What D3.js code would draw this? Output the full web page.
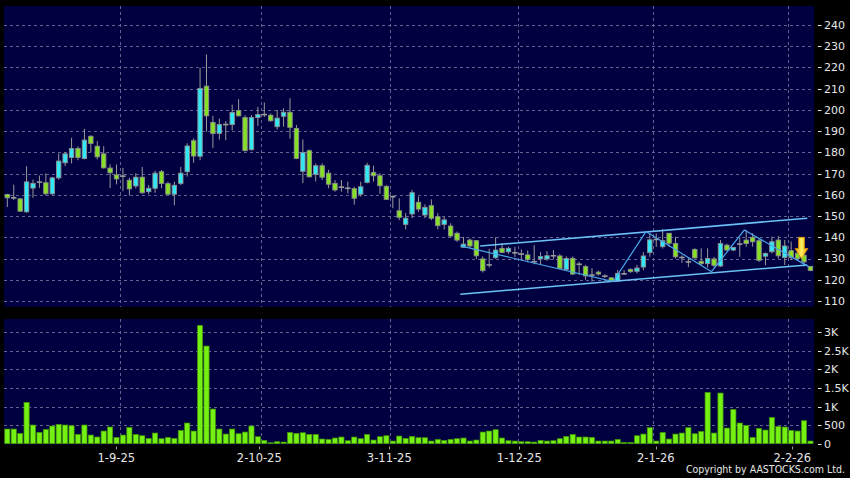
<!DOCTYPE html>
<html><head><meta charset="utf-8">
<script src="https://cdn.jsdelivr.net/npm/d3@7/dist/d3.min.js"></script>
<style>html,body{margin:0;padding:0;background:#000;} svg{display:block;}</style>
</head><body>
<svg id="chart" width="850" height="478"></svg>
<script>
// ---------- DATA ----------
const dates = [
"7-8-25","8-8-25","11-8-25","12-8-25","13-8-25","14-8-25","15-8-25","18-8-25","19-8-25","20-8-25",
"21-8-25","22-8-25","25-8-25","26-8-25","27-8-25","28-8-25","29-8-25",
"1-9-25","2-9-25","3-9-25","4-9-25","5-9-25","8-9-25","9-9-25","10-9-25","11-9-25","12-9-25",
"15-9-25","16-9-25","17-9-25","18-9-25","19-9-25","22-9-25","23-9-25","24-9-25","25-9-25","26-9-25","29-9-25","30-9-25",
"2-10-25","3-10-25","6-10-25","8-10-25","9-10-25","10-10-25","13-10-25","14-10-25","15-10-25","16-10-25","17-10-25",
"20-10-25","21-10-25","22-10-25","23-10-25","24-10-25","27-10-25","28-10-25","30-10-25","31-10-25",
"3-11-25","4-11-25","5-11-25","6-11-25","7-11-25","10-11-25","11-11-25","12-11-25","13-11-25","14-11-25",
"17-11-25","18-11-25","19-11-25","20-11-25","21-11-25","24-11-25","25-11-25","26-11-25","27-11-25","28-11-25",
"1-12-25","2-12-25","3-12-25","4-12-25","5-12-25","8-12-25","9-12-25","10-12-25","11-12-25","12-12-25",
"15-12-25","16-12-25","17-12-25","18-12-25","19-12-25","22-12-25","23-12-25","24-12-25","29-12-25","30-12-25","31-12-25",
"2-1-26","5-1-26","6-1-26","7-1-26","8-1-26","9-1-26","12-1-26","13-1-26","14-1-26","15-1-26","16-1-26",
"19-1-26","20-1-26","21-1-26","22-1-26","23-1-26","26-1-26","27-1-26","28-1-26","29-1-26","30-1-26",
"2-2-26","3-2-26","4-2-26","5-2-26","6-2-26"];

const open = [160.2,158.6,158.1,152.0,163.2,166.0,165.7,160.5,168.0,175.1, 177.6,181.8,177.1,187.6,182.9,179.3,172.6,169.4,168.8,166.9,
 164.2,168.3,161.5,163.1,170.9,165.3,160.3,165.4,170.9,185.5, 178.2,211.2,194.1,188.9,193.1,193.1,199.7,196.4,181.3,196.4,
 197.8,197.5,192.1,197.0,198.9,191.3,171.1,180.8,169.7,173.7, 170.2,165.4,163.6,163.1,162.9,160.3,165.9,170.6,169.0,164.0,
 159.1,152.5,146.1,151.0,156.5,150.5,154.9,149.7,146.1,145.3, 141.9,135.3,138.7,138.4,129.8,127.0,130.4,134.8,133.2,132.7,
 132.1,131.7,128.5,129.8,129.8,131.3,131.2,124.9,130.1,127.3, 126.2,122.2,123.6,121.7,120.9,119.4,122.8,124.9,124.0,126.0,
 132.8,139.0,135.6,141.9,137.1,130.5,128.4,134.3,128.7,127.6, 129.8,126.5,136.3,134.0,136.8,138.7,140.0,138.4,131.1,133.2,
 138.7,130.5,133.7,132.5,131.6,126.3];
const high = [160.5,164.8,158.6,173.5,167.2,169.1,170.1,168.5,179.5,180.1, 186.9,182.9,191.1,188.0,185.3,182.9,174.3,174.3,172.7,168.0,
 170.2,173.1,164.6,171.4,171.7,166.2,166.2,173.1,184.3,186.6, 219.8,226.1,197.2,195.9,194.7,202.5,205.1,197.5,197.5,201.4,
 203.5,198.3,200.0,200.8,205.5,192.9,186.1,181.4,174.8,174.8, 171.8,167.0,167.0,166.2,163.8,166.2,175.1,173.7,170.2,164.6,
 159.8,158.3,151.4,162.3,159.2,155.5,157.9,151.4,149.7,146.6, 142.7,140.2,139.5,138.7,131.0,134.6,140.0,137.3,135.5,135.5,
 134.3,133.8,136.3,133.0,133.5,134.0,132.0,131.0,131.0,128.5, 127.0,125.5,124.3,122.5,121.3,124.6,124.6,125.3,127.0,133.0,
 141.8,141.8,143.8,142.0,140.2,131.5,130.7,134.8,134.8,134.8, 130.8,138.7,137.0,135.5,140.0,143.5,141.9,139.5,132.9,140.3,
 140.6,138.7,138.0,134.0,132.0,126.5];
const low = [154.3,157.5,151.9,151.5,158.6,163.3,159.7,159.8,167.2,173.5, 174.8,176.3,176.7,180.1,176.7,172.4,163.2,164.9,161.7,159.7,
 163.1,160.4,160.3,161.0,163.1,160.0,155.1,164.6,168.6,175.1, 176.3,189.7,182.1,186.0,185.7,190.4,197.0,180.5,180.8,192.5,
 196.7,194.4,190.8,192.1,186.4,176.8,165.5,168.2,166.3,167.0, 163.1,161.5,161.5,160.7,155.4,159.2,165.4,166.2,160.4,157.6,
 153.7,148.1,143.7,149.0,152.0,149.0,148.1,143.7,143.7,139.9, 137.9,135.0,135.0,129.7,123.4,125.8,129.9,132.5,132.2,130.7,
 129.6,128.2,127.3,127.3,129.0,129.6,125.0,124.5,122.3,122.3, 120.0,119.1,122.0,120.8,119.2,119.2,122.4,123.3,123.0,124.5,
 130.8,135.5,134.7,135.5,130.0,127.9,126.0,130.0,126.8,125.7, 125.9,126.0,133.5,133.5,130.8,135.6,135.6,128.4,126.9,132.4,
 130.0,127.0,129.2,129.0,126.3,124.0];
const close = [158.6,158.6,152.3,166.1,165.4,166.0,160.5,168.0,175.9,179.3, 181.8,177.6,185.8,184.2,177.9,172.7,170.4,167.5,168.8,162.8,
 168.3,161.0,163.1,170.2,165.4,160.3,164.5,170.2,183.0,178.3, 210.1,197.2,188.9,193.1,193.1,198.8,197.2,180.8,196.4,197.8,
 197.8,194.9,196.1,198.9,191.8,177.2,180.0,168.5,173.7,168.3, 165.0,162.3,163.6,163.1,158.4,163.8,173.9,169.0,164.3,157.9,
 159.1,149.4,149.0,161.0,153.3,154.1,149.0,145.5,148.2,140.6, 138.7,136.8,135.9,131.3,124.3,127.0,134.0,132.9,134.8,132.7,
 132.1,129.6,128.5,130.9,131.3,131.3,125.4,130.0,122.7,127.3, 121.8,122.2,122.7,121.7,119.4,123.0,122.8,123.8,125.5,131.2,
 138.8,139.0,138.4,137.2,130.8,130.5,128.4,130.3,127.6,130.0, 126.8,137.1,134.0,135.2,136.8,137.1,137.9,129.2,132.4,137.9,
 131.3,135.9,130.5,130.0,128.4,124.4];
const volume = [395,395,278,1113,503,305,386,476,521,503, 485,251,503,233,180,341,449,171,233,440,
 251,215,144,287,135,171,144,359,557,341, 3187,2630,934,395,260,395,269,314,476,189,
 90,27,54,45,305,278,296,251,251,126, 117,153,180,81,180,135,251,99,189,215,
 72,206,144,197,162,162,72,117,90,117, 135,153,72,99,314,341,377,153,81,72,
 54,54,45,90,72,81,135,197,251,180, 180,171,72,72,72,117,36,36,215,260,
 431,72,305,126,260,287,431,269,332,1382, 287,1364,422,925,557,494,171,413,368,709,
 467,449,359,341,619,72];

const priceTicks = [110,120,130,140,150,160,170,180,190,200,210,220,230,240];
const volTicks = [0,500,1000,1500,2000,2500,3000];
const volTickLabels = ["0","500","1K","1.5K","2K","2.5K","3K"];
const xTickLabels = ["1-9-25","2-10-25","3-11-25","1-12-25","2-1-26","2-2-26"];

// drawn trend lines: [candle index, price]
const channelUpper = [[73.6,135.9],[124.5,149.0]];
const channelLower = [[70.5,113.2],[124.5,127.0]];
const zigzag = [[70.5,136.0],[94.3,119.1],[99.4,142.7],[109.6,123.8],[114.7,143.4],[124.7,126.2]];
const signal = {i:123.6, top:140.0, tip:130.0};

// ---------- LAYOUT ----------
const W = 850, H = 478;
const P = {left:4, right:814, top:6, bottom:307};
const V = {top:319, bottom:444.5};
const COL = {bg:"#000", panel:"#000040", grid:"#63638f", up:"#33e8f6", down:"#86e024",
  edge:"#8e8e8e", wick:"#9a9a9a", vol:"#74f012", volEdge:"#3f8f05", text:"#e6e6e6",
  chan:"#6cc2f6", zig:"#4aa6e8"};

const n = dates.length;
const rows = dates.map((d,i)=>({d, o:open[i], h:high[i], l:low[i], c:close[i], v:volume[i]}));

const svg = d3.select("#chart");
svg.append("rect").attr("width",W).attr("height",H).attr("fill",COL.bg);

const x = d3.scaleBand().domain(dates).range([4.1, 4.1 + n*6.425]).padding(0);
const step = x.step();
const cx = d => x(d) + step/2;
const xi = d3.scaleLinear().domain([0, n-1]).range([cx(dates[0]), cx(dates[n-1])]);
const xLab = d3.scaleBand().domain(dates).range([2.55, 2.55 + n*6.5]);

const y = d3.scaleLinear().domain([110,240]).range([301,25]);
const yv = d3.scaleLinear().domain([0,3000]).range([443.7,332.3]);

// panels
svg.append("rect").attr("x",P.left).attr("y",P.top).attr("width",P.right-P.left).attr("height",P.bottom-P.top).attr("fill",COL.panel);
svg.append("rect").attr("x",P.left).attr("y",V.top).attr("width",P.right-P.left).attr("height",V.bottom-V.top).attr("fill",COL.panel);

// clip
const defs = svg.append("defs");
defs.append("clipPath").attr("id","clipP").append("rect").attr("x",P.left).attr("y",P.top).attr("width",P.right-P.left).attr("height",P.bottom-P.top);
defs.append("clipPath").attr("id","clipV").append("rect").attr("x",P.left).attr("y",V.top).attr("width",P.right-P.left).attr("height",V.bottom-V.top);
const grad = defs.append("linearGradient").attr("id","arrowGrad").attr("x1","0").attr("x2","1").attr("y1","0").attr("y2","0");
grad.append("stop").attr("offset","0").attr("stop-color","#e79a00");
grad.append("stop").attr("offset","0.5").attr("stop-color","#fff060");
grad.append("stop").attr("offset","1").attr("stop-color","#e79a00");

// grid
const tickDates = xTickLabels;
const gP = svg.append("g").attr("clip-path","url(#clipP)");
gP.selectAll("line.hg").data(priceTicks).join("line")
  .attr("x1",P.left).attr("x2",P.right).attr("y1",d=>Math.round(y(d))+0.5).attr("y2",d=>Math.round(y(d))+0.5)
  .attr("stroke",COL.grid).attr("stroke-dasharray","3,3").attr("stroke-width",1);
gP.selectAll("line.vg").data(tickDates).join("line")
  .attr("x1",d=>Math.round(x(d)+step)+0.5).attr("x2",d=>Math.round(x(d)+step)+0.5)
  .attr("y1",P.top).attr("y2",P.bottom)
  .attr("stroke",COL.grid).attr("stroke-dasharray","3,3").attr("stroke-width",1);

const gV = svg.append("g").attr("clip-path","url(#clipV)");
gV.selectAll("line.hg").data(volTicks.filter(v=>v>0)).join("line")
  .attr("x1",P.left).attr("x2",P.right).attr("y1",d=>Math.round(yv(d))+0.5).attr("y2",d=>Math.round(yv(d))+0.5)
  .attr("stroke",COL.grid).attr("stroke-dasharray","3,3").attr("stroke-width",1);
gV.selectAll("line.vg").data(tickDates).join("line")
  .attr("x1",d=>Math.round(x(d)+step)+0.5).attr("x2",d=>Math.round(x(d)+step)+0.5)
  .attr("y1",V.top).attr("y2",V.bottom)
  .attr("stroke",COL.grid).attr("stroke-dasharray","3,3").attr("stroke-width",1);

// candles
const bw = 4.4;
const gc = gP.append("g");
gc.selectAll("line.wick").data(rows).join("line")
  .attr("x1",d=>cx(d.d)).attr("x2",d=>cx(d.d)).attr("y1",d=>y(d.h)).attr("y2",d=>y(d.l))
  .attr("stroke",COL.wick).attr("stroke-width",1);
gc.selectAll("rect.body").data(rows.filter(r=>r.o!==r.c)).join("rect")
  .attr("x",d=>cx(d.d)-bw/2).attr("width",bw)
  .attr("y",d=>y(Math.max(d.o,d.c))).attr("height",d=>Math.max(1,y(Math.min(d.o,d.c))-y(Math.max(d.o,d.c))))
  .attr("fill",d=>d.c>d.o?COL.up:COL.down).attr("stroke",COL.edge).attr("stroke-width",0.9);
gc.selectAll("line.doji").data(rows.filter(r=>r.o===r.c)).join("line")
  .attr("x1",d=>cx(d.d)-bw/2-0.5).attr("x2",d=>cx(d.d)+bw/2+0.5).attr("y1",d=>y(d.c)).attr("y2",d=>y(d.c))
  .attr("stroke",COL.wick).attr("stroke-width",1.6);

// trend lines
const ln = d3.line().x(p=>xi(p[0])).y(p=>y(p[1]));
[channelUpper, channelLower].forEach(pts=>{
  gP.append("path").attr("d",ln(pts)).attr("fill","none").attr("stroke",COL.chan).attr("stroke-width",1.5);
});
gP.append("path").attr("d",ln(zigzag)).attr("fill","none").attr("stroke",COL.zig).attr("stroke-width",1.2);

// signal arrow
{
  const ax = xi(signal.i), yt = y(signal.top), yp = y(signal.tip);
  const hs = yp - 10;
  const path = `M${ax-3},${yt} L${ax+3},${yt} L${ax+3},${hs} L${ax+6.5},${hs} L${ax},${yp} L${ax-6.5},${hs} L${ax-3},${hs} Z`;
  gP.append("path").attr("d",path).attr("fill","url(#arrowGrad)").attr("stroke","#d98c00").attr("stroke-width",0.8);
}

// volume bars
gV.selectAll("rect.vol").data(rows).join("rect")
  .attr("x",d=>cx(d.d)-2.6).attr("width",5.2)
  .attr("y",d=>yv(d.v)).attr("height",d=>yv(0)-yv(d.v))
  .attr("fill",COL.vol).attr("stroke",COL.volEdge).attr("stroke-width",0.7);

// y axes (right)
const font = "DejaVu Sans, Verdana, sans-serif";
const gy = svg.append("g");
gy.selectAll("line").data(priceTicks).join("line")
  .attr("x1",818).attr("x2",821.5).attr("y1",d=>Math.round(y(d))+0.5).attr("y2",d=>Math.round(y(d))+0.5)
  .attr("stroke",COL.text).attr("stroke-width",1);
gy.selectAll("text").data(priceTicks).join("text")
  .attr("x",824).attr("y",d=>y(d)).attr("dy","0.36em")
  .attr("fill",COL.text).attr("font-family",font).attr("font-size",11).text(d=>d);

const gyv = svg.append("g");
gyv.selectAll("line").data(volTicks).join("line")
  .attr("x1",818).attr("x2",821.5).attr("y1",d=>Math.round(yv(d))+0.5).attr("y2",d=>Math.round(yv(d))+0.5)
  .attr("stroke",COL.text).attr("stroke-width",1);
gyv.selectAll("text").data(volTicks).join("text")
  .attr("x",824).attr("y",d=>yv(d)).attr("dy","0.36em")
  .attr("fill",COL.text).attr("font-family",font).attr("font-size",11).text((d,i)=>volTickLabels[i]);

// x axis labels
const gx = svg.append("g");
gx.selectAll("line").data(xTickLabels).join("line")
  .attr("x1",d=>Math.round(xLab(d)+xLab.step()/2)+0.5).attr("x2",d=>Math.round(xLab(d)+xLab.step()/2)+0.5)
  .attr("y1",446.5).attr("y2",449.5).attr("stroke","#9a9a9a");
gx.selectAll("text").data(xTickLabels).join("text")
  .attr("x",d=>xLab(d)+xLab.step()/2).attr("y",461.5).attr("text-anchor","middle")
  .attr("fill",COL.text).attr("font-family",font).attr("font-size",11.5).text(d=>d);

svg.append("text").attr("x",845).attr("y",473).attr("text-anchor","end")
  .attr("fill",COL.text).attr("font-family","DejaVu Sans Condensed, DejaVu Sans, sans-serif")
  .attr("font-stretch","condensed").attr("font-size",10.5)
  .text("Copyright by AASTOCKS.com Ltd.");
</script>
</body></html>
